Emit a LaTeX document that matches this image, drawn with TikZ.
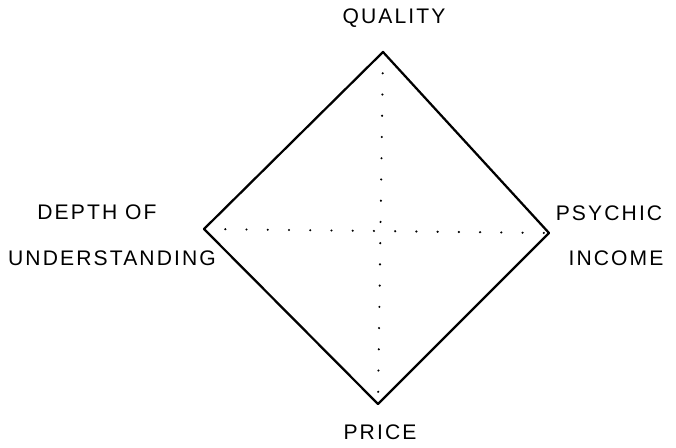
\documentclass[tikz,border=0pt]{standalone}
\usepackage{fontspec}
\setmainfont{Liberation Sans}
\newfontfamily\handfont[LetterSpace=10]{Liberation Sans}
\usetikzlibrary{positioning}

\begin{document}
\begin{tikzpicture}[
  x=0.025cm, y=-0.025cm,
  every node/.style={font=\handfont\fontsize{15}{18}\selectfont},
  corner/.style={line width=1.6pt,line join=round},
  axis/.style={line width=1.6pt,line cap=round,dash pattern=on 0.1pt off 15pt},
  lbl/.style={inner sep=0pt,align=center},
]
\useasboundingbox (0,0) rectangle (676,447);
% ---- corners of the diamond ----
\coordinate (qual)  at (383,52);
\coordinate (depth) at (204,229);
\coordinate (psy)   at (549,233);
\coordinate (price) at (378,404);
% ---- outline and the two dotted axes ----
\draw[corner] (qual) -- (psy) -- (price) -- (depth) -- cycle;
\draw[axis] (qual) -- (price);
\draw[axis] (depth) -- (psy);
% ---- labels ----
\node[lbl] (lq)  at (394,18)  {QUALITY};
\node[lbl] (ld1) at (97,212)  {DEPTH OF};
\node[lbl] (ld2) at (112,258) {UNDERSTANDING};
\node[lbl] (lp1) at (609,213) {PSYCHIC};
\node[lbl] (lp2) at (616,258) {INCOME};
\node[lbl] (lpr) at (380,432) {PRICE};
\end{tikzpicture}
\end{document}
